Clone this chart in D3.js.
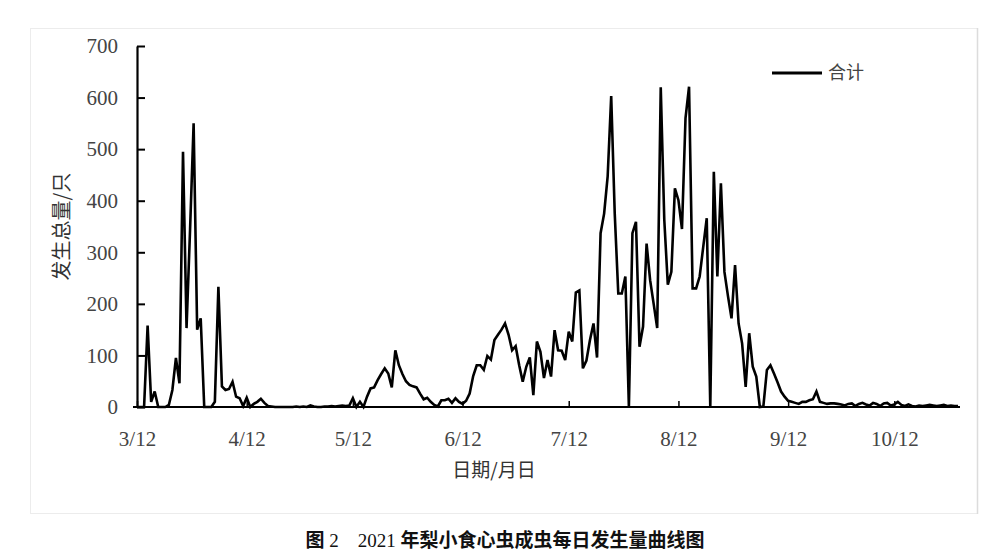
<!DOCTYPE html>
<html>
<head>
<meta charset="utf-8">
<script src="https://cdn.jsdelivr.net/npm/d3@7/dist/d3.min.js"></script>
<style>
  html, body { margin: 0; padding: 0; background: #fff; }
  svg { display: block; }
  g.axis text { font-family: "Liberation Serif", "Times New Roman", serif !important; font-size: 21px !important; fill: #444; }
</style>
</head>
<body>
<svg id="chart" width="1000" height="554"></svg>
<script>
// ---- data ----
const startDate = "2021-03-12";           // first day of the series
const seriesName = "合计";
// daily totals (one value per day from 3/12)
const dailyCounts = [
  0, 0, 0, 158, 10, 30, 0, 0, 0, 4,
  33, 95, 46, 495, 153, 345, 550, 150, 172, 0,
  0, 0, 10, 233, 40, 33, 35, 49, 20, 17,
  2, 18, 0, 6, 10, 16, 8, 2, 1, 0,
  0, 0, 0, 0, 0, 1, 0, 1, 0, 3,
  1, 0, 0, 1, 1, 2, 1, 2, 3, 2,
  3, 17, 0, 10, 0, 20, 36, 38, 52, 64,
  75, 65, 38, 110, 81, 64, 50, 43, 40, 38,
  26, 15, 18, 10, 4, 1, 13, 13, 16, 8,
  17, 10, 6, 12, 26, 60, 81, 81, 72, 99,
  92, 130, 140, 150, 162, 140, 110, 118, 81, 49,
  78, 96, 23, 127, 107, 56, 91, 59, 149, 110,
  109, 91, 146, 127, 222, 226, 75, 90, 130, 162,
  96, 337, 375, 447, 603, 375, 220, 220, 253, 0,
  337, 359, 117, 156, 317, 246, 200, 153, 620, 363,
  237, 262, 424, 401, 345, 560, 621, 230, 230, 253,
  310, 366, 0, 456, 253, 434, 262, 215, 172, 275,
  162, 123, 39, 143, 78, 59, 0, 1, 72, 81,
  65, 48, 30, 20, 12, 10, 8, 6, 10, 10,
  13, 15, 30, 10, 8, 6, 7, 7, 6, 5,
  3, 6, 7, 2, 6, 8, 5, 3, 8, 6,
  2, 7, 8, 3, 5, 10, 4, 2, 5, 2,
  1, 3, 2, 3, 4, 3, 2, 3, 4, 2,
  3, 2, 2
];
const xTickDates = ["2021-03-12","2021-04-12","2021-05-12","2021-06-12","2021-07-12","2021-08-12","2021-09-12","2021-10-12"];
const xTickLabels = ["3/12","4/12","5/12","6/12","7/12","8/12","9/12","10/12"];
const yTicks = [0, 100, 200, 300, 400, 500, 600, 700];
const yTitle = "发生总量/只";
const xTitle = "日期/月日";
// caption pieces: [text, isSerif]
const captionParts = [["图", false], ["\u00a02", true], ["\u00a0\u00a0\u00a0\u00a02021\u00a0", true], ["年梨小食心虫成虫每日发生量曲线图", false]];

// ---- build ----
const SERIF = '"Liberation Serif", "DejaVu Serif", serif';
const CJK = '"Noto Sans CJK SC", "Noto Sans", sans-serif';
const parse = d3.utcParse("%Y-%m-%d");
const t0 = parse(startDate);
const data = dailyCounts.map((v, i) => ({ date: d3.utcDay.offset(t0, i), value: v }));

const svg = d3.select("#chart");
const plot = { left: 137, right: 958, top: 46, bottom: 407 };

// frame
svg.append("rect").attr("x", 30.5).attr("y", 28.5).attr("width", 947).attr("height", 485)
  .attr("fill", "#fff").attr("stroke", "#ececec").attr("stroke-width", 1);
svg.append("line").attr("x1", 977.5).attr("x2", 977.5).attr("y1", 28).attr("y2", 514)
  .attr("stroke", "#dcdcdc").attr("stroke-width", 1.5);

const x = d3.scaleUtc()
  .domain([t0, data[data.length - 1].date])
  .range([plot.left, plot.right]);
const y = d3.scaleLinear().domain([0, 700]).range([plot.bottom, plot.top]);

// y axis
const yAxis = d3.axisLeft(y).tickValues(yTicks).tickSize(-8).tickPadding(19).tickSizeOuter(0);
const gy = svg.append("g").attr("class", "axis").attr("transform", `translate(${plot.left},0)`)
  .attr("font-family", SERIF).attr("font-size", 21)
  .call(yAxis);
gy.attr("font-family", SERIF).attr("font-size", 21);
gy.select(".domain").attr("stroke", "#000").attr("stroke-width", 2.2);
gy.selectAll(".tick line").attr("stroke", "#000").attr("stroke-width", 2);

// x axis
const xAxis = d3.axisBottom(x).tickValues(xTickDates.map(parse))
  .tickFormat((d, i) => xTickLabels[i]).tickSize(-6).tickPadding(24).tickSizeOuter(0);
const gx = svg.append("g").attr("class", "axis").attr("transform", `translate(0,${plot.bottom})`)
  .call(xAxis);
gx.attr("font-family", SERIF).attr("font-size", 21);
gx.select(".domain").attr("stroke", "#000").attr("stroke-width", 2.2)
  .attr("d", `M${plot.left - 4},0H${plot.right + 2}`);
gx.selectAll(".tick line").attr("stroke", "#000").attr("stroke-width", 1.5);

// line
const line = d3.line().x(d => x(d.date)).y(d => y(d.value));
svg.append("path").datum(data)
  .attr("fill", "none").attr("stroke", "#000").attr("stroke-width", 2.6)
  .attr("stroke-linejoin", "miter").attr("stroke-miterlimit", 3)
  .attr("d", line);

// axis titles
svg.append("text")
  .attr("transform", `translate(69,${(plot.top + plot.bottom) / 2}) rotate(-90)`)
  .attr("text-anchor", "middle").style("font-family", CJK).style("font-size", "20px").attr("fill", "#333")
  .text(yTitle);
svg.append("text").attr("x", 494).attr("y", 477)
  .attr("text-anchor", "middle").style("font-family", CJK).style("font-size", "19px").attr("fill", "#333")
  .text(xTitle);

// legend
svg.append("line").attr("x1", 772).attr("x2", 822).attr("y1", 73).attr("y2", 73)
  .attr("stroke", "#000").attr("stroke-width", 3);
svg.append("text").attr("x", 828).attr("y", 79)
  .style("font-family", CJK).style("font-size", "18px").attr("fill", "#444").text(seriesName);

// caption
const cap = svg.append("text").attr("x", 505).attr("y", 547).attr("text-anchor", "middle")
  .style("font-size", "19px").attr("fill", "#111");
captionParts.forEach(([t, s]) => {
  cap.append("tspan").style("font-family", s ? SERIF : CJK)
    .style("font-weight", s ? 400 : 700).text(t);
});
</script>
</body>
</html>
